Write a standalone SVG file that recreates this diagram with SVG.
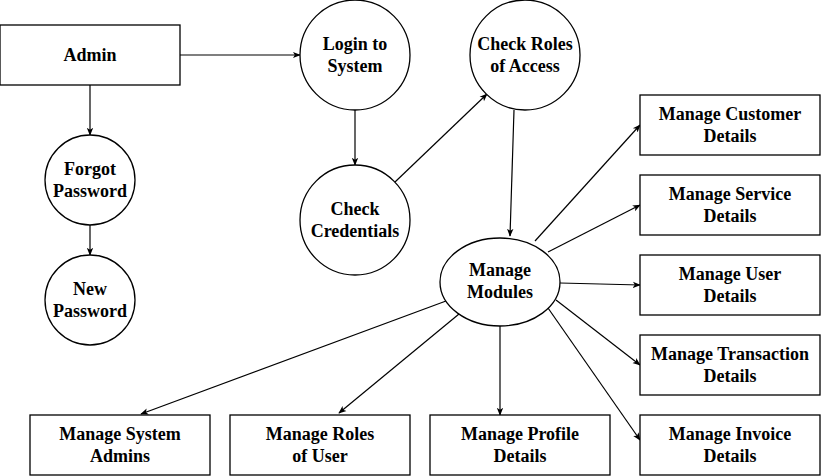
<svg xmlns="http://www.w3.org/2000/svg" width="821" height="476" viewBox="0 0 821 476">
<style>
.n{fill:#fff;stroke:#000;stroke-width:1.3}
.t{font-family:"Liberation Serif","Times New Roman",serif;font-weight:bold;font-size:18px;fill:#000;text-anchor:middle;dominant-baseline:central}
.c{fill:none;stroke:#000;stroke-width:1.2;marker-end:url(#ah)}
</style>
<defs>
<marker id="ah" viewBox="0 0 10 10" refX="9" refY="5" markerWidth="8" markerHeight="8" markerUnits="userSpaceOnUse" orient="auto">
<path d="M0,1 L10,5 L0,9 L2.5,5 Z" fill="#000"/>
</marker>
</defs>
<rect width="821" height="476" fill="#fff"/>
<g id="connectors">
<line class="c" x1="180" y1="55" x2="300" y2="55"/>
<line class="c" x1="90" y1="85" x2="90" y2="135"/>
<line class="c" x1="90" y1="225" x2="90" y2="255"/>
<line class="c" x1="355" y1="110" x2="355" y2="165"/>
<line class="c" x1="395" y1="182" x2="487" y2="94"/>
<line class="c" x1="514" y1="110" x2="510" y2="236"/>
<line class="c" x1="535" y1="241" x2="640" y2="125"/>
<line class="c" x1="548" y1="252" x2="640" y2="205"/>
<line class="c" x1="560" y1="283" x2="640" y2="285"/>
<line class="c" x1="556" y1="300" x2="640" y2="365"/>
<line class="c" x1="548" y1="308" x2="640" y2="440"/>
<line class="c" x1="500" y1="326" x2="500" y2="415"/>
<line class="c" x1="459" y1="314" x2="339" y2="413"/>
<line class="c" x1="446" y1="301" x2="141" y2="414"/>
</g>
<g id="admin"><rect class="n" x="0" y="25" width="180" height="60"/><text class="t" x="90" y="55">Admin</text></g>
<g id="login"><circle class="n" cx="355" cy="55" r="55"/><text class="t" x="355" y="44">Login to</text><text class="t" x="355" y="66">System</text></g>
<g id="roles"><circle class="n" cx="525" cy="55" r="55"/><text class="t" x="525" y="44">Check Roles</text><text class="t" x="525" y="66">of Access</text></g>
<g id="credentials"><circle class="n" cx="355" cy="220" r="55"/><text class="t" x="355" y="209">Check</text><text class="t" x="355" y="231">Credentials</text></g>
<g id="forgot"><circle class="n" cx="90" cy="180" r="45"/><text class="t" x="90" y="169">Forgot</text><text class="t" x="90" y="191">Password</text></g>
<g id="newpw"><circle class="n" cx="90" cy="300" r="45"/><text class="t" x="90" y="289">New</text><text class="t" x="90" y="311">Password</text></g>
<g id="modules"><ellipse class="n" cx="500" cy="282" rx="60" ry="44"/><text class="t" x="500" y="270">Manage</text><text class="t" x="500" y="292">Modules</text></g>
<g id="customer"><rect class="n" x="640" y="95" width="180" height="60"/><text class="t" x="730" y="114">Manage Customer</text><text class="t" x="730" y="136">Details</text></g>
<g id="service"><rect class="n" x="640" y="175" width="180" height="60"/><text class="t" x="730" y="194">Manage Service</text><text class="t" x="730" y="216">Details</text></g>
<g id="user"><rect class="n" x="640" y="255" width="180" height="60"/><text class="t" x="730" y="274">Manage User</text><text class="t" x="730" y="296">Details</text></g>
<g id="transaction"><rect class="n" x="640" y="335" width="180" height="60"/><text class="t" x="730" y="354">Manage Transaction</text><text class="t" x="730" y="376">Details</text></g>
<g id="invoice"><rect class="n" x="640" y="415" width="180" height="60"/><text class="t" x="730" y="434">Manage Invoice</text><text class="t" x="730" y="456">Details</text></g>
<g id="sysadmins"><rect class="n" x="30" y="415" width="180" height="60"/><text class="t" x="120" y="434">Manage System</text><text class="t" x="120" y="456">Admins</text></g>
<g id="userroles"><rect class="n" x="230" y="415" width="180" height="60"/><text class="t" x="320" y="434">Manage Roles</text><text class="t" x="320" y="456">of User</text></g>
<g id="profile"><rect class="n" x="430" y="415" width="180" height="60"/><text class="t" x="520" y="434">Manage Profile</text><text class="t" x="520" y="456">Details</text></g>
</svg>
